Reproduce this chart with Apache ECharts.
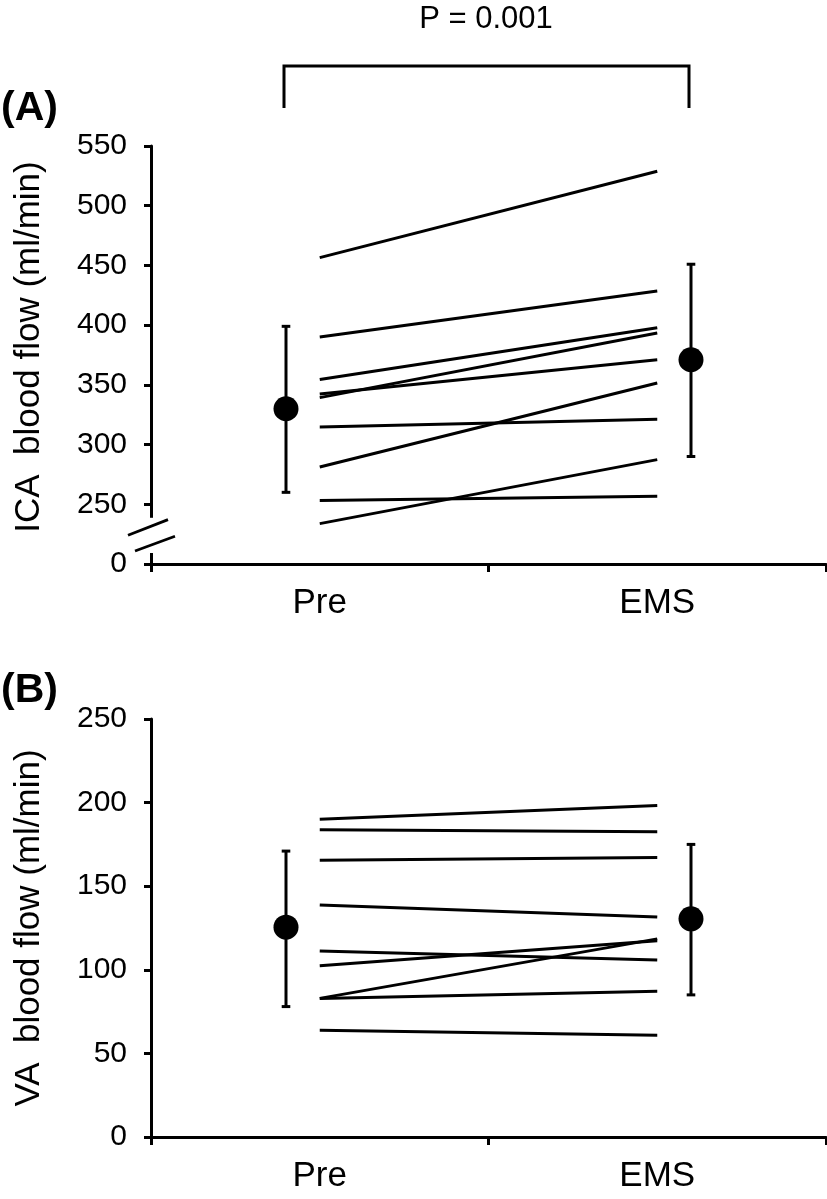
<!DOCTYPE html>
<html><head><meta charset="utf-8">
<script src="https://cdn.jsdelivr.net/npm/echarts@6/dist/echarts.min.js"></script>
<style>html,body{margin:0;padding:0;background:#fff}#c{width:827px;height:1199px}</style>
</head><body><div id="c"></div>
<script>
// ---- data ----
const categories = ['Pre', 'EMS'];
const icaPre  = [456.5, 390.1, 354.4, 342.3, 339.3, 314.7, 281.2, 253.1, 233.8];
const icaEMS  = [528.8, 428.6, 397.9, 371.1, 393.4, 321.2, 351.6, 256.7, 287.4];
const icaMean = [330, 371];
const icaLow  = [260, 290];
const icaHigh = [399, 451];
const vaPre   = [190.1, 183.7, 165.5, 138.7, 111.2, 102.4, 82.9, 82.9, 63.9];
const vaEMS   = [198.2, 182.6, 167.1, 131.6, 105.8, 117.4, 118.5, 87.2, 60.9];
const vaMean  = [125.5, 130.5];
const vaLow   = [78, 85];
const vaHigh  = [171, 175];
const icaBreakValue = 200;   // axis bottom drawn as "0" below the break
const icaTitle = 'ICA  blood flow (ml/min)';
const vaTitle  = 'VA  blood flow (ml/min)';
const pText = 'P = 0.001';

const FONT = "'Liberation Sans', Arial, sans-serif";
const chart = echarts.init(document.getElementById('c'), null, {renderer: 'canvas'});

const catPos = [0.5, 1.5];     // category centres on hidden value axis
const meanPos = [0.4, 1.6];    // offset positions of mean ± SD markers

function subjectSeries(pre, ems, xi, yi) {
  return pre.map((v, i) => ({
    type: 'line', xAxisIndex: xi, yAxisIndex: yi, silent: true,
    symbol: 'none', lineStyle: {color: '#000', width: 3},
    data: [[catPos[0], v], [catPos[1], ems[i]]], z: 3
  }));
}
function errSeries(lo, hi, xi, yi) {
  return {
    type: 'custom', xAxisIndex: xi, yAxisIndex: yi, silent: true, z: 4,
    data: lo.map((l, i) => [meanPos[i], l, hi[i]]),
    encode: {x: 0, y: [1, 2]},
    renderItem: function (params, api) {
      const x = api.value(0);
      const a = api.coord([x, api.value(1)]);
      const b = api.coord([x, api.value(2)]);
      const w = 4.3, st = {stroke: '#000', lineWidth: 3};
      return {type: 'group', children: [
        {type: 'line', shape: {x1: a[0], y1: a[1], x2: b[0], y2: b[1]}, style: st},
        {type: 'line', shape: {x1: a[0]-w, y1: a[1], x2: a[0]+w, y2: a[1]}, style: st},
        {type: 'line', shape: {x1: b[0]-w, y1: b[1], x2: b[0]+w, y2: b[1]}, style: st}
      ]};
    }
  };
}
function meanSeries(m, xi, yi) {
  return {
    type: 'scatter', xAxisIndex: xi, yAxisIndex: yi, silent: true, z: 5,
    symbol: 'circle', symbolSize: 25, itemStyle: {color: '#000', opacity: 1},
    data: m.map((v, i) => [meanPos[i], v])
  };
}

const axisLine = {show: true, lineStyle: {color: '#000', width: 3}};
const catAxis = (g) => ({
  type: 'category', gridIndex: g, data: categories, boundaryGap: true,
  axisLine: axisLine,
  axisTick: {show: true, length: 8, lineStyle: {color: '#000', width: 3}},
  axisLabel: {color: '#000', fontSize: 35, fontFamily: FONT, margin: 22},
  splitLine: {show: false}
});
const valX = (g) => ({type: 'value', gridIndex: g, min: 0, max: 2, show: false});
const yAx = (g, min, max, name, fmt, pad) => ({
  type: 'value', gridIndex: g, min: min, max: max, interval: 50,
  name: name, nameLocation: 'middle', nameRotate: 90, nameGap: 104,
  nameTextStyle: {color: '#000', fontSize: 35, fontFamily: FONT, padding: [0, 0, 0, pad]},
  axisLine: axisLine,
  axisTick: {show: true, length: 7, lineStyle: {color: '#000', width: 3}},
  axisLabel: {color: '#000', fontSize: 30, fontFamily: FONT, margin: 24, formatter: fmt},
  splitLine: {show: false}
});

chart.setOption({
  animation: false,
  backgroundColor: '#fff',
  grid: [
    {left: 151, top: 146, width: 675, height: 418},
    {left: 151, top: 719, width: 675, height: 418}
  ],
  xAxis: [catAxis(0), valX(0), catAxis(1), valX(1)],
  yAxis: [
    yAx(0, icaBreakValue, 550, icaTitle, v => (v === icaBreakValue ? '0' : String(v)), 16),
    yAx(1, 0, 250, vaTitle, v => String(v), 0)
  ],
  series: [].concat(
    subjectSeries(icaPre, icaEMS, 1, 0),
    [errSeries(icaLow, icaHigh, 1, 0), meanSeries(icaMean, 1, 0)],
    subjectSeries(vaPre, vaEMS, 3, 1),
    [errSeries(vaLow, vaHigh, 3, 1), meanSeries(vaMean, 3, 1)]
  )
});

// decorations: axis break, significance bracket, panel letters, P value
const gridLeft = 151;
const p250 = chart.convertToPixel({yAxisIndex: 0}, 250);
const p0 = chart.convertToPixel({yAxisIndex: 0}, icaBreakValue);
const mx0 = chart.convertToPixel({xAxisIndex: 1}, meanPos[0]);
const mx1 = chart.convertToPixel({xAxisIndex: 1}, meanPos[1]);
const st = {stroke: '#000', lineWidth: 2.8};
const bracketY = 66, legY = 108;

chart.setOption({
  graphic: [
    {type: 'rect', shape: {x: gridLeft - 4, y: p250 + 13.5, width: 8, height: (p0 - 11) - (p250 + 13.5)}, style: {fill: '#fff'}, z: 10},
    {type: 'line', shape: {x1: gridLeft - 23, y1: p0 - 28.7, x2: gridLeft + 17, y2: p0 - 44.4}, style: st, z: 11},
    {type: 'line', shape: {x1: gridLeft - 16, y1: p0 - 13, x2: gridLeft + 24, y2: p0 - 27.7}, style: st, z: 11},
    {type: 'polyline', shape: {points: [[mx0 - 2, legY], [mx0 - 2, bracketY], [mx1 - 2, bracketY], [mx1 - 2, legY]]}, style: {stroke: '#000', lineWidth: 3, fill: null}, z: 11},
    {type: 'text', x: 486, y: 19, style: {text: pText, font: '31px ' + FONT, fill: '#000', textAlign: 'center', textVerticalAlign: 'middle'}, z: 11},
    {type: 'text', x: 1, y: 109, style: {text: '(A)', font: 'bold 41px ' + FONT, fill: '#000', textAlign: 'left', textVerticalAlign: 'middle'}, z: 11},
    {type: 'text', x: 1, y: 691, style: {text: '(B)', font: 'bold 41px ' + FONT, fill: '#000', textAlign: 'left', textVerticalAlign: 'middle'}, z: 11}
  ]
});
</script>
</body></html>
